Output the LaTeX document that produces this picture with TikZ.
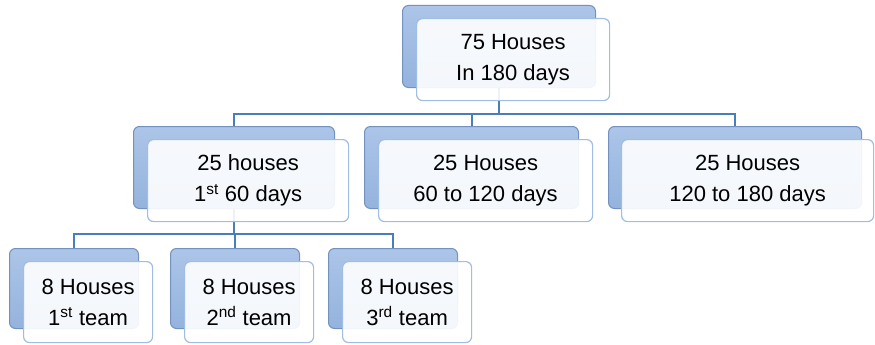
\documentclass[tikz,border=0pt]{standalone}
\usepackage{fontspec}
\setmainfont{Liberation Sans}
\usetikzlibrary{positioning}

\definecolor{backtop}{HTML}{ACC5E8}
\definecolor{backbot}{HTML}{94B3DD}
\definecolor{backedge}{HTML}{7392C0}
\definecolor{frontedge}{HTML}{A0BDE3}
\definecolor{linkblue}{HTML}{4A7DBA}

\begin{document}
\begin{tikzpicture}[x=1pt, y=-1pt,
  back/.style={draw=backedge, line width=1pt, rounded corners=6pt,
    top color=backtop, bottom color=backbot, inner sep=0pt,
    anchor=north west, minimum height=82pt},
  front/.style={draw=frontedge, line width=1.2pt, rounded corners=6pt,
    fill=white, fill opacity=0.9, text opacity=1, inner sep=0pt,
    minimum height=82pt, align=center,
    font=\fontsize{22}{31}\selectfont},
  link/.style={draw=linkblue, line width=2pt}]
  \useasboundingbox (0,0) rectangle (875,345);
  % hintere Kaesten
  \node[back, minimum width=193pt] (top) at (402,5) {};
  \node[back, minimum width=201pt] (m1) at (133,126) {};
  \node[back, minimum width=214pt] (m2) at (364,126) {};
  \node[back, minimum width=253pt] (m3) at (608,126) {};
  \node[back, minimum width=129pt, minimum height=80pt] (b1) at (9,248) {};
  \node[back, minimum width=129pt, minimum height=80pt] (b2) at (170,248) {};
  \node[back, minimum width=129pt, minimum height=80pt] (b3) at (328,248) {};
  % Verbindungen
  \draw[link] (top.south) -- ++(0,26) -| (m1.north);
  \draw[link] (top.south) -- ++(0,26) -| (m3.north);
  \draw[link] (m2.north) -- ++(0,-13);
  \draw[link] (m1.south) -- ++(0,25) -| (b1.north);
  \draw[link] (m1.south) -- ++(0,25) -| (b3.north);
  \draw[link] (b2.north) -- ++(0,-15);
  % vordere Kaesten
  \node[front, minimum width=193pt, below right=13pt and 14pt of top.north west]
    (topf) {75 Houses\\In 180 days};
  \node[front, minimum width=201pt, below right=13pt and 14pt of m1.north west]
    (m1f) {25 houses\\1\textsuperscript{st} 60 days};
  \node[front, minimum width=214pt, below right=13pt and 14pt of m2.north west]
    (m2f) {25 Houses\\60 to 120 days};
  \node[front, minimum width=252pt, below right=13pt and 13pt of m3.north west]
    (m3f) {25 Houses\\120 to 180 days};
  \node[front, minimum width=129pt, minimum height=81pt,
    below right=13pt and 14pt of b1.north west]
    (b1f) {8 Houses\\1\textsuperscript{st} team};
  \node[front, minimum width=129pt, minimum height=81pt,
    below right=13pt and 14pt of b2.north west]
    (b2f) {8 Houses\\2\textsuperscript{nd} team};
  \node[front, minimum width=129pt, minimum height=81pt,
    below right=13pt and 14pt of b3.north west]
    (b3f) {8 Houses\\3\textsuperscript{rd} team};
\end{tikzpicture}
\end{document}
